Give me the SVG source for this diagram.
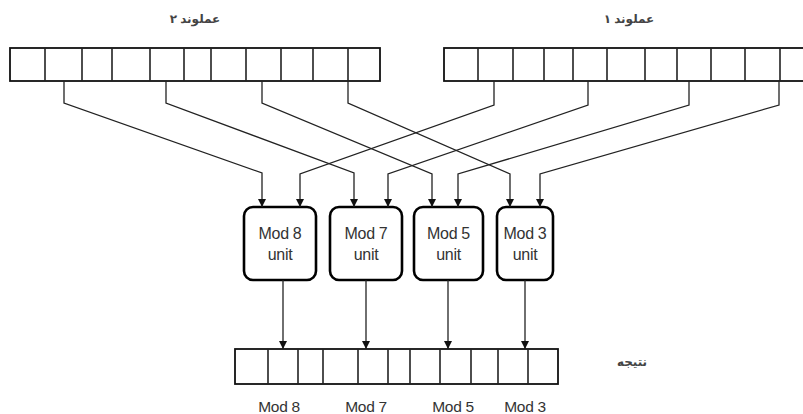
<svg xmlns="http://www.w3.org/2000/svg" width="803" height="414" viewBox="0 0 803 414">
<defs>
<marker id="arr" viewBox="0 0 8 8" refX="8" refY="4" markerWidth="8" markerHeight="8" markerUnits="userSpaceOnUse" orient="auto">
<path d="M0,0 L8,4 L0,8 Z" fill="#111"/>
</marker>
</defs>
<style>
.reg{fill:#fff;stroke:#111;stroke-width:1.8}
.div{stroke:#222;stroke-width:1.6}
.box{fill:#fff;stroke:#000;stroke-width:2.6}
.con{fill:none;stroke:#222;stroke-width:1.3;marker-end:url(#arr)}
.t{font-family:"Liberation Sans",Arial,sans-serif;font-size:16px;fill:#333;text-anchor:middle;letter-spacing:-0.3px}
.lbl{font-family:"Liberation Sans",Arial,sans-serif;font-size:15.5px;fill:#333;text-anchor:middle;letter-spacing:-0.3px}
.fa{font-family:"Noto Sans","DejaVu Sans",sans-serif;font-size:12px;font-weight:bold;fill:#444;text-anchor:middle}
</style>
<rect width="803" height="414" fill="#fff"/>
<text class="fa" x="195" y="23" direction="rtl">عملوند ۲</text>
<text class="fa" x="629" y="23" direction="rtl">عملوند ۱</text>
<text class="fa" x="632" y="366" direction="rtl">نتیجه</text>
<g id="operand2">
<rect class="reg" x="10" y="48" width="370" height="33"/>
<path class="div" d="M45 48V81M82 48V81M112 48V81M150 48V81M184 48V81M211 48V81M246 48V81M281 48V81M313 48V81M348 48V81"/>
</g>
<g id="operand1">
<rect class="reg" x="444" y="48" width="370" height="33"/>
<path class="div" d="M478 48V81M513 48V81M544 48V81M573 48V81M607 48V81M645 48V81M677 48V81M711 48V81M745 48V81M780 48V81"/>
</g>
<g id="mod8"><rect class="box" x="244" y="207" width="72" height="73" rx="9"/><text class="t" x="280" y="239">Mod 8</text><text class="t" x="280" y="260">unit</text></g>
<g id="mod7"><rect class="box" x="330" y="207" width="72" height="73" rx="9"/><text class="t" x="366" y="239">Mod 7</text><text class="t" x="366" y="260">unit</text></g>
<g id="mod5"><rect class="box" x="414" y="207" width="69" height="73" rx="9"/><text class="t" x="448.5" y="239">Mod 5</text><text class="t" x="448.5" y="260">unit</text></g>
<g id="mod3"><rect class="box" x="497" y="207" width="56" height="73" rx="9"/><text class="t" x="525" y="239">Mod 3</text><text class="t" x="525" y="260">unit</text></g>
<g id="result">
<rect class="reg" x="235" y="349" width="323" height="35"/>
<path class="div" d="M268 349V384M298 349V384M323 349V384M358 349V384M388 349V384M410 349V384M440 349V384M471 349V384M498 349V384M528 349V384"/>
</g>
<text class="lbl" x="279" y="412">Mod 8</text>
<text class="lbl" x="366" y="412">Mod 7</text>
<text class="lbl" x="453" y="412">Mod 5</text>
<text class="lbl" x="525" y="412">Mod 3</text>
<g id="connectors">
<path class="con" d="M64 81V103L262 173V207"/>
<path class="con" d="M166 81V103L354 173V207"/>
<path class="con" d="M262 81V103L432 174V207"/>
<path class="con" d="M348 81V103L510 174V207"/>
<path class="con" d="M494 81V105L300 174V207"/>
<path class="con" d="M588 81V105L388 174V207"/>
<path class="con" d="M689 81V105L458 174V207"/>
<path class="con" d="M779 81V105L540 174V207"/>
<path class="con" d="M283 280V349"/>
<path class="con" d="M366 280V349"/>
<path class="con" d="M448 280V349"/>
<path class="con" d="M525 280V349"/>
</g>
</svg>
